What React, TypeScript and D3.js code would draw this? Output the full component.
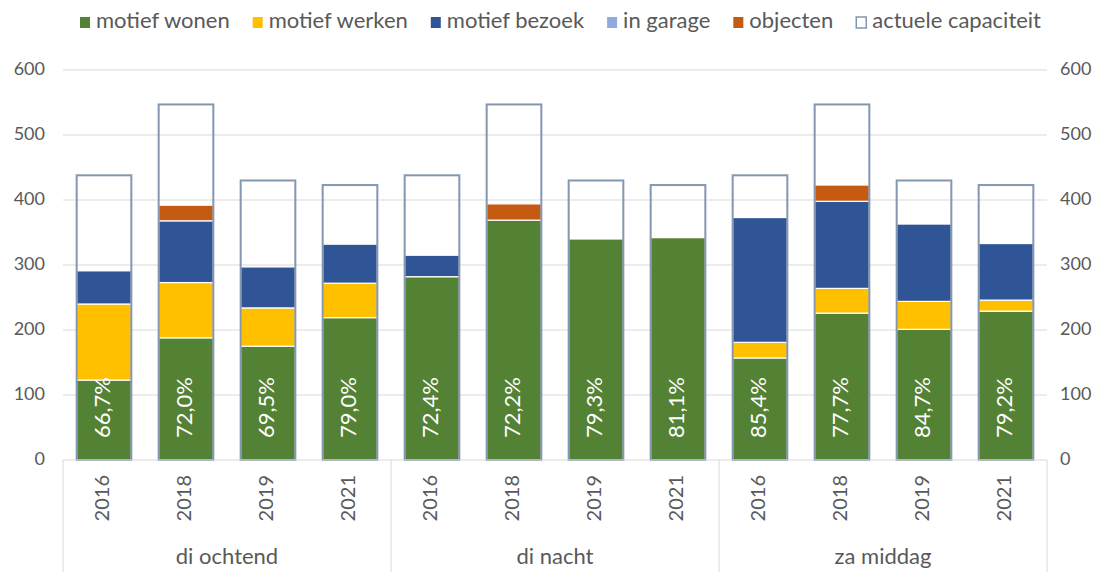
import React, { useEffect, useRef } from 'react';
import * as d3 from 'd3';

const groups = ['di ochtend', 'di nacht', 'za middag'];
const years = ['2016', '2018', '2019', '2021'];

const wonen = [123, 188, 175, 219, 282, 369, 340, 342, 157, 226, 201, 229];
const werken = [117, 85, 59, 53, 0, 0, 0, 0, 24, 38, 43, 17];
const bezoek = [51, 95, 63, 60, 33, 0, 0, 0, 192, 134, 119, 87];
const garage = [0, 0, 0, 0, 0, 0, 0, 0, 0, 0, 0, 0];
const objecten = [0, 24, 0, 0, 0, 25, 0, 0, 0, 25, 0, 0];
const capaciteit = [438, 547, 430, 423, 438, 547, 430, 423, 438, 547, 430, 423];
const percentages = ['66,7%', '72,0%', '69,5%', '79,0%', '72,4%', '72,2%', '79,3%', '81,1%', '85,4%', '77,7%', '84,7%', '79,2%'];

const seriesNames = ['motief wonen', 'motief werken', 'motief bezoek', 'in garage', 'objecten'];
const seriesColors = ['#548235', '#FFC000', '#2F5597', '#8FAADC', '#C55A11'];
const capLabel = 'actuele capaciteit';
const capColor = '#8497B0';
const yTicks = [0, 100, 200, 300, 400, 500, 600];

const W = 1104;
const H = 572;
const FONT = 'Lato, "Open Sans", sans-serif';

export default function App() {
  const svgRef = useRef<SVGSVGElement>(null);

  useEffect(() => {
    const svg = d3.select(svgRef.current);
    svg.selectAll('*').remove();

    const left = 63, right = 1047, top = 70, base = 460;

    const rows = capaciteit.map((c, i) => ({
      key: `${groups[Math.floor(i / years.length)]}|${years[i % years.length]}`,
      year: years[i % years.length],
      s0: wonen[i], s1: werken[i], s2: bezoek[i], s3: garage[i], s4: objecten[i],
      cap: c,
      pct: percentages[i],
    }));

    const x = d3.scaleBand()
      .domain(rows.map(d => d.key))
      .range([left, right])
      .paddingInner(1 / 3)
      .paddingOuter(1 / 6);

    const y = d3.scaleLinear().domain([0, 600]).range([base, top]);

    // gridlines
    svg.append('g')
      .selectAll('line')
      .data(yTicks.slice(1))
      .join('line')
      .attr('x1', left).attr('x2', right)
      .attr('y1', d => y(d)).attr('y2', d => y(d))
      .attr('stroke', '#D9D9D9').attr('stroke-width', 1);

    // left and right tick labels
    const tickStyle = (sel: any) => sel
      .attr('font-family', FONT).attr('font-size', 18).attr('fill', '#595959')
      .attr('dominant-baseline', 'middle');
    svg.append('g').selectAll('text').data(yTicks).join('text')
      .attr('x', left - 18).attr('y', d => y(d))
      .attr('text-anchor', 'end').text(d => d).call(tickStyle);
    svg.append('g').selectAll('text').data(yTicks).join('text')
      .attr('x', right + 13).attr('y', d => y(d))
      .attr('text-anchor', 'start').text(d => d).call(tickStyle);

    // stacked bars
    const stack = d3.stack<any>().keys(['s0', 's1', 's2', 's3', 's4']);
    const layers = stack(rows);
    svg.append('g')
      .selectAll('g')
      .data(layers)
      .join('g')
      .attr('fill', (_, i) => seriesColors[i])
      .selectAll('rect')
      .data(d => d.filter(p => p[1] - p[0] > 0))
      .join('rect')
      .attr('x', p => x(p.data.key)!)
      .attr('width', x.bandwidth())
      .attr('y', p => y(p[1]))
      .attr('height', p => y(p[0]) - y(p[1]))
      .attr('stroke', '#FFFFFF')
      .attr('stroke-width', 1.2);

    // capacity outlines
    svg.append('g')
      .selectAll('rect')
      .data(rows)
      .join('rect')
      .attr('x', d => x(d.key)!)
      .attr('width', x.bandwidth())
      .attr('y', d => y(d.cap))
      .attr('height', d => y(0) - y(d.cap))
      .attr('fill', 'none')
      .attr('stroke', capColor)
      .attr('stroke-width', 2);

    // percentage labels
    svg.append('g')
      .selectAll('text')
      .data(rows)
      .join('text')
      .attr('transform', d => `translate(${x(d.key)! + x.bandwidth() / 2},${base - 22}) rotate(-90)`)
      .attr('dominant-baseline', 'middle')
      .attr('text-anchor', 'start')
      .attr('font-family', FONT).attr('font-size', 22).attr('fill', '#FFFFFF')
      .text(d => d.pct);

    // category axis
    svg.append('line')
      .attr('x1', left).attr('x2', right).attr('y1', base).attr('y2', base)
      .attr('stroke', '#D9D9D9').attr('stroke-width', 1);

    const gw = (right - left) / groups.length;
    svg.append('g').selectAll('line')
      .data(d3.range(groups.length + 1))
      .join('line')
      .attr('x1', i => left + i * gw).attr('x2', i => left + i * gw)
      .attr('y1', base).attr('y2', H)
      .attr('stroke', '#D9D9D9').attr('stroke-width', 1);

    svg.append('g').selectAll('text')
      .data(rows)
      .join('text')
      .attr('transform', d => `translate(${x(d.key)! + x.bandwidth() / 2},${base + 15}) rotate(-90)`)
      .attr('dominant-baseline', 'middle')
      .attr('text-anchor', 'end')
      .attr('font-family', FONT).attr('font-size', 20).attr('fill', '#595959')
      .text(d => d.year);

    svg.append('g').selectAll('text')
      .data(groups)
      .join('text')
      .attr('x', (_, i) => left + (i + 0.5) * gw)
      .attr('y', 564)
      .attr('text-anchor', 'middle')
      .attr('font-family', FONT).attr('font-size', 22).attr('fill', '#595959')
      .text(d => d);

    // legend
    const legend = svg.append('g');
    const items = [
      ...seriesNames.map((n, i) => ({ name: n, color: seriesColors[i], outline: false })),
      { name: capLabel, color: capColor, outline: true },
    ];
    let lx = 80;
    const ly = 22;
    items.forEach(it => {
      legend.append('rect')
        .attr('x', lx).attr('y', ly - 5).attr('width', 10).attr('height', 11)
        .attr('fill', it.outline ? '#FFFFFF' : it.color)
        .attr('stroke', it.outline ? it.color : 'none')
        .attr('stroke-width', 1.5);
      const t = legend.append('text')
        .attr('x', lx + 16).attr('y', ly)
        .attr('dominant-baseline', 'middle')
        .attr('font-family', FONT).attr('font-size', 22).attr('fill', '#595959')
        .text(it.name);
      const w = (t.node() as SVGTextElement).getComputedTextLength();
      lx += 16 + w + 23;
    });
  }, []);

  return (
    <svg ref={svgRef} width={W} height={H}
      style={{ position: 'absolute', left: 0, top: 0, background: '#FFFFFF' }} />
  );
}
